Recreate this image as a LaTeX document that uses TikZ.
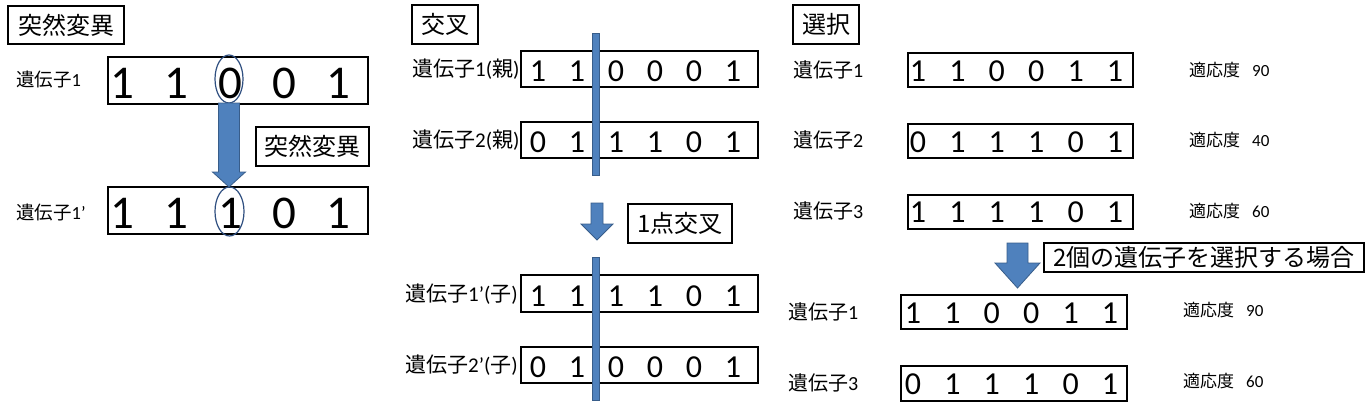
\documentclass[tikz,border=0pt]{standalone}
\usepackage{fontspec}
\setmainfont{Carlito}
\newfontfamily\jp{Noto Sans CJK JP}
\usetikzlibrary{shapes.geometric}
\definecolor{arrblue}{HTML}{4F81BD}
\definecolor{arrline}{HTML}{385D8A}
\definecolor{ellblue}{HTML}{2F4F80}
\newlength\dgsp
\newcommand\bitc[1]{\makebox[\dgsp]{#1}}
% block arrow: cx, top, tip, shaft half width, head half width, head length
\newcommand\barrow[6]{\filldraw[barr] (#1-#4,#2) -- (#1+#4,#2) -- (#1+#4,#3-#6) -- (#1+#5,#3-#6) -- (#1,#3) -- (#1-#5,#3-#6) -- (#1-#4,#3-#6) -- cycle;}
\begin{document}
\begin{tikzpicture}[x=1pt,y=-1pt,
  gbox/.style={draw, line width=1.8pt, rectangle, inner sep=0pt},
  tbox/.style={draw, line width=1.4pt, rectangle, inner sep=0pt, font=\jp\fontsize{24}{24}\selectfont},
  mdig/.style={anchor=base, inner sep=0pt, font=\fontsize{47}{47}\selectfont\setlength\dgsp{54pt}},
  cdig/.style={anchor=base, inner sep=0pt, font=\fontsize{32}{32}\selectfont\setlength\dgsp{39pt}},
  sdig/.style={anchor=base, inner sep=0pt, font=\fontsize{32}{32}\selectfont\setlength\dgsp{39.4pt}},
  mlab/.style={anchor=west, inner sep=0pt, font=\fontsize{18.5}{20}\selectfont},
  clab/.style={anchor=west, inner sep=0pt, font=\fontsize{21}{22}\selectfont},
  slab/.style={anchor=west, inner sep=0pt, font=\fontsize{20}{22}\selectfont},
  fitl/.style={anchor=west, inner sep=0pt, font=\fontsize{17}{18}\selectfont},
  ell/.style={draw=ellblue, line width=1.2pt, ellipse, inner sep=0pt},
  cbar/.style={fill=arrblue, draw=arrline, line width=0.8pt, rectangle, inner sep=0pt},
  barr/.style={fill=arrblue, draw=arrline, line width=0.8pt}]
\useasboundingbox (0,0) rectangle (1372,407);

% ===== 突然変異 =====
\node[tbox, minimum width=116pt, minimum height=38pt] (mt) at (66,25) {突然変異};
\node[mlab] (ml1) at (16,80) {{\jp 遺伝子}1};
\node[mlab] (ml2) at (16,213) {{\jp 遺伝子}1’};
\node[gbox, minimum width=260pt, minimum height=47pt] (mb1) at (238,80.5) {};
\node[gbox, minimum width=260pt, minimum height=47pt] (mb2) at (238,210.5) {};
\node[mdig] (md1) at (230,98) {\bitc1\bitc1\bitc0\bitc0\bitc1};
\node[mdig] (md2) at (230,228) {\bitc1\bitc1\bitc1\bitc0\bitc1};
\node[ell, minimum width=28pt, minimum height=48pt] (me1) at (229,79) {};
\node[ell, minimum width=29pt, minimum height=49pt] (me2) at (229.5,211.5) {};
\barrow{229}{103}{187}{10.5}{16.5}{15}
\node[tbox, minimum width=113pt, minimum height=39pt] (mlb) at (312.5,146.5) {突然変異};

% ===== 交叉 =====
\node[tbox, minimum width=66pt, minimum height=39pt] (ct) at (445,24.5) {交叉};
\node[clab] (cl1) at (412,69) {{\jp 遺伝子}1({\jp 親})};
\node[clab] (cl2) at (412,140) {{\jp 遺伝子}2({\jp 親})};
\node[clab] (cl3) at (405,294) {{\jp 遺伝子}1’({\jp 子})};
\node[clab] (cl4) at (405,365) {{\jp 遺伝子}2’({\jp 子})};
\node[gbox, minimum width=237pt, minimum height=36pt] (cb1) at (639.5,69) {};
\node[gbox, minimum width=237pt, minimum height=36pt] (cb2) at (639.5,140) {};
\node[gbox, minimum width=237pt, minimum height=37pt] (cb3) at (639.5,293.5) {};
\node[gbox, minimum width=237pt, minimum height=36pt] (cb4) at (639.5,365) {};
\node[cdig] (cd1) at (635.5,81) {\bitc1\bitc1\bitc0\bitc0\bitc0\bitc1};
\node[cdig] (cd2) at (635.5,152) {\bitc0\bitc1\bitc1\bitc1\bitc0\bitc1};
\node[cdig] (cd3) at (635.5,306) {\bitc1\bitc1\bitc1\bitc1\bitc0\bitc1};
\node[cdig] (cd4) at (635.5,377) {\bitc0\bitc1\bitc0\bitc0\bitc0\bitc1};
\node[cbar, minimum width=7pt, minimum height=142pt] (cbar1) at (595.5,104) {};
\node[cbar, minimum width=7pt, minimum height=143pt] (cbar2) at (595.5,328.5) {};
\barrow{597}{203}{240}{6}{16}{16}
\node[tbox, minimum width=104pt, minimum height=39pt] (clb) at (680,223.5) {1{\jp 点交叉}};

% ===== 選択 =====
\node[tbox, minimum width=66pt, minimum height=39pt] (st) at (826,24.5) {選択};
\node[slab] (sl1) at (793,70) {{\jp 遺伝子}1};
\node[slab] (sl2) at (793,140) {{\jp 遺伝子}2};
\node[slab] (sl3) at (793,211) {{\jp 遺伝子}3};
\node[slab] (sl4) at (788,312) {{\jp 遺伝子}1};
\node[slab] (sl5) at (788,383) {{\jp 遺伝子}3};
\node[gbox, minimum width=225pt, minimum height=34pt] (sb1) at (1020.5,70) {};
\node[gbox, minimum width=225pt, minimum height=34pt] (sb2) at (1020.5,141) {};
\node[gbox, minimum width=225pt, minimum height=34pt] (sb3) at (1020.5,212) {};
\node[gbox, minimum width=226pt, minimum height=34pt] (sb4) at (1014,312) {};
\node[gbox, minimum width=226pt, minimum height=35pt] (sb5) at (1014,383.5) {};
\node[sdig] (sd1) at (1016.5,81) {\bitc1\bitc1\bitc0\bitc0\bitc1\bitc1};
\node[sdig] (sd2) at (1016.5,152) {\bitc0\bitc1\bitc1\bitc1\bitc0\bitc1};
\node[sdig] (sd3) at (1016.5,222) {\bitc1\bitc1\bitc1\bitc1\bitc0\bitc1};
\node[sdig] (sd4) at (1011.5,323) {\bitc1\bitc1\bitc0\bitc0\bitc1\bitc1};
\node[sdig] (sd5) at (1011.5,394) {\bitc0\bitc1\bitc1\bitc1\bitc0\bitc1};
\node[fitl] (sf1) at (1189,70) {{\jp 適応度}\hspace{12pt}90};
\node[fitl] (sf2) at (1189,140) {{\jp 適応度}\hspace{12pt}40};
\node[fitl] (sf3) at (1189,211) {{\jp 適応度}\hspace{12pt}60};
\node[fitl] (sf4) at (1183,310) {{\jp 適応度}\hspace{12pt}90};
\node[fitl] (sf5) at (1183,381) {{\jp 適応度}\hspace{12pt}60};
\barrow{1017.5}{243}{288}{10.5}{22.5}{25}
\node[tbox, minimum width=320pt, minimum height=29pt] (slb) at (1204,257.5) {2{\jp 個の遺伝子を選択する場合}};
\end{tikzpicture}
\end{document}
